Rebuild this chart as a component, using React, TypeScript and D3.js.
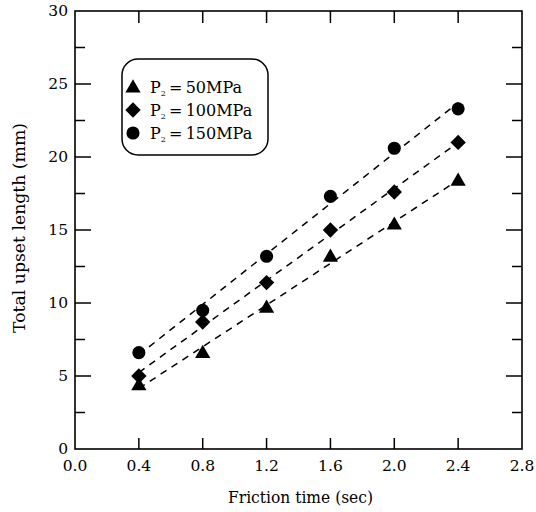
import React from "react";
import * as d3 from "d3";

const times = [0.4, 0.8, 1.2, 1.6, 2.0, 2.4];
const p50 = [4.4, 6.6, 9.7, 13.2, 15.4, 18.4];
const p100 = [5.0, 8.7, 11.4, 15.0, 17.6, 21.0];
const p150 = [6.6, 9.5, 13.2, 17.3, 20.6, 23.3];
const seriesNames = ["50MPa", "100MPa", "150MPa"];
const xTicks = [0.0, 0.4, 0.8, 1.2, 1.6, 2.0, 2.4, 2.8];
const yMajor = [0, 5, 10, 15, 20, 25, 30];
const yMinor = [2.5, 7.5, 12.5, 17.5, 22.5, 27.5];

const W = 536, H = 512;
const L = 75, R = 522, T = 11, B = 449;
const FONT = "DejaVu Serif";

function fit(xs: number[], ys: number[]) {
  const mx = d3.mean(xs)!, my = d3.mean(ys)!;
  let sxy = 0, sxx = 0;
  xs.forEach((x, i) => { sxy += (x - mx) * (ys[i] - my); sxx += (x - mx) ** 2; });
  const b = sxy / sxx;
  return (x: number) => my + b * (x - mx);
}

function Marker({ k, cx, cy }: { k: number; cx: number; cy: number }) {
  if (k === 0) return <path transform={`translate(${cx},${cy + 1})`} d={d3.symbol(d3.symbolTriangle, 100)()!} fill="#000" />;
  if (k === 1) return <path transform={`translate(${cx},${cy}) rotate(45)`} d={d3.symbol(d3.symbolSquare, 118)()!} fill="#000" />;
  return <path transform={`translate(${cx},${cy})`} d={d3.symbol(d3.symbolCircle, 135)()!} fill="#000" />;
}

export default function App() {
  const x = d3.scaleLinear().domain([0, 2.8]).range([L, R]);
  const y = d3.scaleLinear().domain([0, 30]).range([B, T]);
  const all = [p50, p100, p150];
  const line = d3.line<[number, number]>().x(d => x(d[0])).y(d => y(d[1]));
  const lg = { x: 122, y: 59, w: 146, h: 96 };
  const ts = { fontFamily: FONT } as React.CSSProperties;
  return (
    <svg width={W} height={H} style={{ position: "absolute", left: 0, top: 0, background: "#fff", fontFamily: FONT }}>
      <rect x={0} y={0} width={W} height={H} fill="#fff" />
      <rect x={L} y={T} width={R - L} height={B - T} fill="none" stroke="#000" strokeWidth={1.6} />
      {xTicks.map((t, i) => (
        <g key={"xt" + i}>
          {i > 0 && i < xTicks.length - 1 && (
            <>
              <line x1={x(t)} x2={x(t)} y1={B} y2={B - 11} stroke="#000" strokeWidth={1.5} />
              <line x1={x(t)} x2={x(t)} y1={T} y2={T + 12} stroke="#000" strokeWidth={1.5} />
            </>
          )}
          <text style={ts} x={x(t)} y={471} textAnchor="middle" fontSize={15.5}>{t.toFixed(1)}</text>
        </g>
      ))}
      {yMajor.map((t, i) => (
        <g key={"ym" + i}>
          {t > 0 && t < 30 && (
            <>
              <line x1={L} x2={L + 16} y1={y(t)} y2={y(t)} stroke="#000" strokeWidth={1.5} />
              <line x1={R} x2={R - 16} y1={y(t)} y2={y(t)} stroke="#000" strokeWidth={1.5} />
            </>
          )}
          <text style={ts} x={68} y={y(t) + 5} textAnchor="end" fontSize={15.5}>{t}</text>
        </g>
      ))}
      {yMinor.map((t, i) => (
        <g key={"yn" + i}>
          <line x1={L} x2={L + 10} y1={y(t)} y2={y(t)} stroke="#000" strokeWidth={1.5} />
          <line x1={R} x2={R - 10} y1={y(t)} y2={y(t)} stroke="#000" strokeWidth={1.5} />
        </g>
      ))}
      <text style={ts} x={228} y={503} fontSize={16} textLength={145} lengthAdjust="spacingAndGlyphs">Friction time (sec)</text>
      <text style={ts} transform={`translate(25, 333) rotate(-90)`} fontSize={16} textLength={210} lengthAdjust="spacingAndGlyphs">Total upset length (mm)</text>
      {all.map((ys, k) => {
        const f = fit(times, ys);
        const x0 = times[0], x1 = times[times.length - 1];
        return (
          <path key={"fl" + k} d={line([[x0, f(x0)], [x1, f(x1)]])!} fill="none" stroke="#000" strokeWidth={1.5} strokeDasharray="7,6" />
        );
      })}
      {all.map((ys, k) => ys.map((v, i) => (
        <Marker key={`m${k}-${i}`} k={k} cx={x(times[i])} cy={y(v)} />
      )))}
      <rect x={lg.x} y={lg.y} width={lg.w} height={lg.h} rx={16} ry={16} fill="#fff" stroke="#000" strokeWidth={1.5} />
      {seriesNames.map((n, k) => {
        const cy = 87 + k * 23;
        return (
          <g key={"lg" + k}>
            <Marker k={k} cx={133} cy={cy} />
            <text style={ts} x={150} y={cy + 6} fontSize={16}>
              P<tspan fontSize={8} dy={3}>2</tspan><tspan dy={-3}>{"\u2009=\u2009" + n}</tspan>
            </text>
          </g>
        );
      })}
    </svg>
  );
}
